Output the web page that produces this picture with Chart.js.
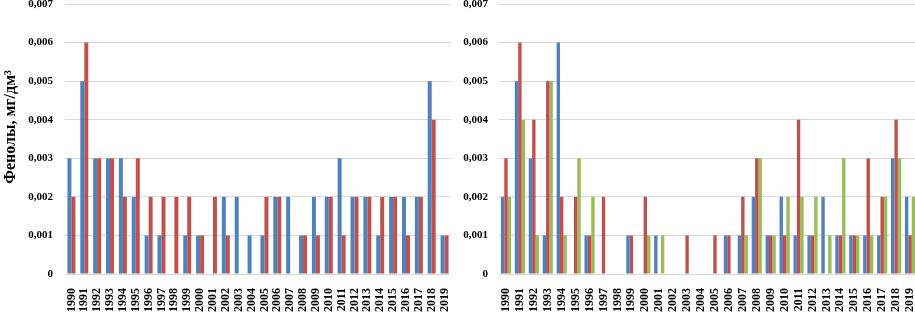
<!DOCTYPE html>
<html>
<head>
<meta charset="utf-8">
<script src="https://cdn.jsdelivr.net/npm/chart.js@4.4.1/dist/chart.umd.min.js"></script>
<style>
  html, body { margin: 0; padding: 0; background: #fff; overflow: hidden; }
  #wrap { position: relative; width: 915px; height: 312px; }
  .box { position: absolute; top: 0; height: 312px; }
</style>
</head>
<body>
<div id="wrap">
  <div class="box" style="left:0;width:455px"><canvas id="left-chart"></canvas></div>
  <div class="box" style="left:455px;width:462px"><canvas id="right-chart"></canvas></div>
</div>
<script>
const years = ['1990','1991','1992','1993','1994','1995','1996','1997','1998','1999',
               '2000','2001','2002','2003','2004','2005','2006','2007','2008','2009',
               '2010','2011','2012','2013','2014','2015','2016','2017','2018','2019'];

// left panel
const leftBlue = [0.003,0.005,0.003,0.003,0.003,0.002,0.001,0.001,0,0.001,
                  0.001,0,0.002,0.002,0.001,0.001,0.002,0.002,0.001,0.002,
                  0.002,0.003,0.002,0.002,0.001,0.002,0.002,0.002,0.005,0.001];
const leftRed  = [0.002,0.006,0.003,0.003,0.002,0.003,0.002,0.002,0.002,0.002,
                  0.001,0.002,0.001,0,0,0.002,0.002,0,0.001,0.001,
                  0.002,0.001,0.002,0.002,0.002,0.002,0.001,0.002,0.004,0.001];

// right panel
const rightBlue  = [0.002,0.005,0.003,0.001,0.006,0,0.001,0,0,0.001,
                    0,0.001,0,0,0,0,0.001,0.001,0.002,0.001,
                    0.002,0.001,0.001,0.002,0.001,0.001,0.001,0.001,0.003,0.002];
const rightRed   = [0.003,0.006,0.004,0.005,0.002,0.002,0.001,0.002,0,0.001,
                    0.002,0,0,0.001,0,0.001,0.001,0.002,0.003,0.001,
                    0.001,0.004,0.001,0,0.001,0.001,0.003,0.002,0.004,0.001];
const rightGreen = [0.002,0.004,0.001,0.005,0.001,0.003,0.002,0,0,0,
                    0.001,0.001,0,0,0,0,0,0.001,0.003,0.001,
                    0.002,0.002,0.002,0.001,0.003,0.001,0.001,0.002,0.003,0.002];

const yTicks = [0,0.001,0.002,0.003,0.004,0.005,0.006,0.007];
const yTitle = '\u00a0\u00a0\u00a0\u00a0\u00a0\u00a0Фенолы, мг/дм³';

const BLUE = '#4f81bd', RED = '#c0504d', GREEN = '#9bbb59';
const FONT = '"Liberation Serif", "Times New Roman", serif';

const makeDataset = (data, color, catPct) => ({
    data: data,
    backgroundColor: color,
    borderWidth: 0,
    barPercentage: 1,
    categoryPercentage: catPct
});

const makeOptions = (yWidth, tickPad, showTitle, padRight) => ({
    responsive: true,
    maintainAspectRatio: false,
    animation: false,
    layout: { padding: { top: 4, right: padRight, left: 0, bottom: 0 } },
    plugins: { legend: { display: false }, tooltip: { enabled: false } },
    scales: {
        x: {
            grid: { display: false },
            border: { display: false },
            ticks: {
                autoSkip: false,
                maxRotation: 90,
                minRotation: 90,
                padding: 6,
                color: '#000',
                font: { family: FONT, size: 12, weight: 'bold' }
            },
            afterFit: scale => {
                scale.height = 38;
                scale.paddingLeft = 0;
                scale.paddingRight = 0;
            }
        },
        y: {
            min: 0,
            max: 0.007,
            afterBuildTicks: scale => {
                scale.ticks = yTicks.map(v => ({ value: v }));
            },
            grid: { color: '#d9d9d9', drawTicks: false, lineWidth: 1 },
            border: { display: false },
            ticks: {
                padding: tickPad,
                color: '#000',
                font: { family: FONT, size: 11, weight: 'bold' },
                callback: v => v === 0 ? '0' : v.toFixed(3).replace('.', ',')
            },
            title: {
                display: showTitle,
                text: yTitle,
                color: '#000',
                padding: { top: 1, bottom: 0 },
                font: { family: FONT, size: 16, weight: 'bold' }
            },
            afterFit: scale => {
                scale.width = yWidth;
                scale.paddingTop = 0;
                scale.paddingBottom = 0;
            }
        }
    }
});

new Chart(document.getElementById('left-chart').getContext('2d'), {
    type: 'bar',
    data: {
        labels: years,
        datasets: [
            makeDataset(leftBlue, BLUE, 0.62),
            makeDataset(leftRed, RED, 0.62)
        ]
    },
    options: makeOptions(65, 12, true, 4)
});

new Chart(document.getElementById('right-chart').getContext('2d'), {
    type: 'bar',
    data: {
        labels: years,
        datasets: [
            makeDataset(rightBlue, BLUE, 0.73),
            makeDataset(rightRed, RED, 0.73),
            makeDataset(rightGreen, GREEN, 0.73)
        ]
    },
    options: makeOptions(44, 11, false, 0)
});
</script>
</body>
</html>
